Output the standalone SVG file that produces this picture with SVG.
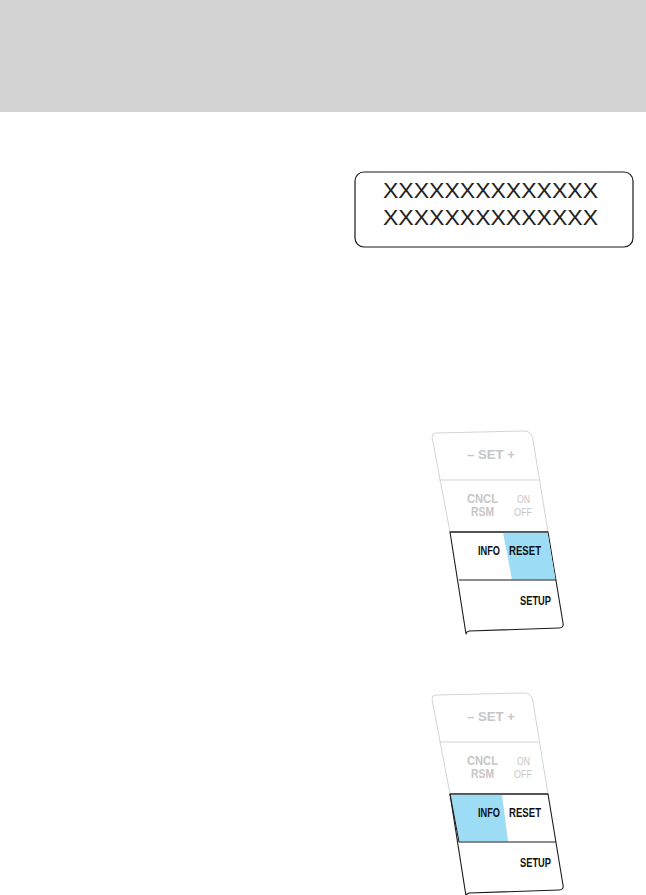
<svg xmlns="http://www.w3.org/2000/svg" width="646" height="895" viewBox="0 0 646 895">
<style>
.hdr{fill:#d2d2d2}
.disp{fill:#fff;stroke:#1a1a1a;stroke-width:1.2}
.xt{font-family:"Liberation Sans",Arial,sans-serif;font-size:22px;fill:#222}
.lt{fill:none;stroke:#d4d4d4;stroke-width:1}
.dk{fill:#fff;stroke:#1a1a1a;stroke-width:1.1;stroke-linejoin:round}
.dl{fill:none;stroke:#1a1a1a;stroke-width:1.1}
.blue{fill:#9cdcf5}
.gt{font-family:"Liberation Sans",Arial,sans-serif;font-weight:bold;fill:#c6c6c6}
.bt{font-family:"Liberation Sans",Arial,sans-serif;font-weight:bold;font-size:12px;fill:#111}
</style>
<defs>
<g id="panel">
<path class="lt" d="M450,532 L432,437 Q432,433 436,433 L524,431 Q532,431 533,440 L548,532"/>
<path class="lt" d="M439,480 L539,480"/>
<path class="dk" d="M450,532 L548,532 L563,623 Q564,628 559,628 L469,631 Q466,632 466,634 Z"/>
<text class="gt" x="467" y="459" font-size="12" textLength="48" lengthAdjust="spacingAndGlyphs">–  SET +</text>
<text class="gt" x="467" y="503" font-size="12" textLength="31" lengthAdjust="spacingAndGlyphs">CNCL</text>
<text class="gt" x="471" y="516" font-size="12" textLength="23" lengthAdjust="spacingAndGlyphs">RSM</text>
<text class="gt" x="517" y="503" font-size="10.5" textLength="13" lengthAdjust="spacingAndGlyphs" style="font-weight:normal">ON</text>
<text class="gt" x="514" y="516" font-size="10.5" textLength="18" lengthAdjust="spacingAndGlyphs" style="font-weight:normal">OFF</text>
</g>
</defs>
<rect class="hdr" x="0" y="0" width="646" height="112"/>
<g id="display">
<rect class="disp" x="355" y="172" width="278" height="75" rx="9"/>
<text class="xt" x="383" y="198" textLength="215" lengthAdjust="spacingAndGlyphs">XXXXXXXXXXXXXX</text>
<text class="xt" x="383" y="225" textLength="215" lengthAdjust="spacingAndGlyphs">XXXXXXXXXXXXXX</text>
</g>
<g id="panel-reset">
<use href="#panel"/>
<polygon class="blue" points="503,532.6 547.5,532.6 555.5,579.5 512,579.5"/>
<path class="dl" d="M459,580 L556,580"/>
<path class="dl" d="M450,532 L548,532"/>
<text class="bt" x="478" y="555" textLength="22" lengthAdjust="spacingAndGlyphs">INFO</text>
<text class="bt" x="509" y="555" textLength="32" lengthAdjust="spacingAndGlyphs">RESET</text>
<text class="bt" x="520" y="605" textLength="31" lengthAdjust="spacingAndGlyphs">SETUP</text>
</g>
<g id="panel-info" transform="translate(0,262)">
<use href="#panel"/>
<polygon class="blue" points="450.6,532.6 502,532.6 508,579.5 459.6,579.5"/>
<path class="dl" d="M459,580 L556,580"/>
<path class="dl" d="M450,532 L548,532 M450,532 L459,580"/>
<text class="bt" x="478" y="555" textLength="22" lengthAdjust="spacingAndGlyphs">INFO</text>
<text class="bt" x="509" y="555" textLength="32" lengthAdjust="spacingAndGlyphs">RESET</text>
<text class="bt" x="520" y="605" textLength="31" lengthAdjust="spacingAndGlyphs">SETUP</text>
</g>
</svg>
